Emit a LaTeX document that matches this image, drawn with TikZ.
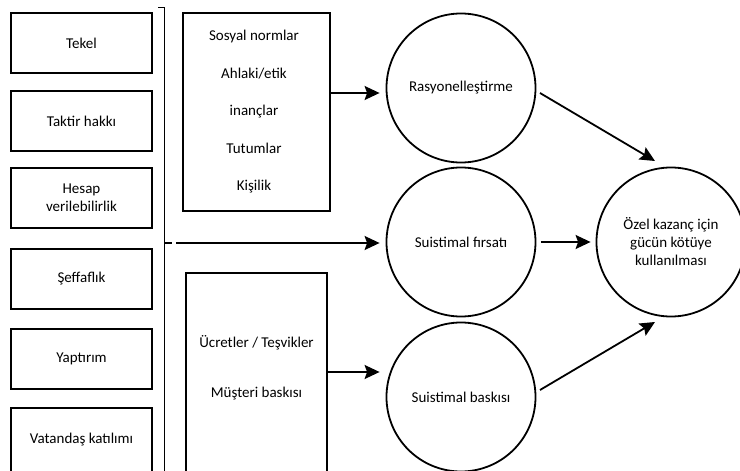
\documentclass[tikz,border=0pt]{standalone}
\usepackage{fontspec}
\setmainfont{Carlito}
\usetikzlibrary{arrows.meta,calc}
\begin{document}
\begin{tikzpicture}[x=1pt,y=-1pt,
  txt/.style={font=\fontsize{15}{18}\selectfont},
  box/.style={txt,draw,line width=1.8pt,minimum width=141pt,minimum height=60pt,inner sep=0pt,align=center},
  bigbox/.style={draw,line width=1.8pt,inner sep=0pt},
  circ/.style={txt,draw,circle,line width=1.8pt,minimum size=149pt,inner sep=0pt,align=center},
  arr/.style={line width=1.8pt,-{Stealth[length=15pt,width=14pt,inset=2.5pt]}},
  thin/.style={line width=1pt},
]
\useasboundingbox (0,0) rectangle (740,471);
\clip (0,0) rectangle (740,471);
% left boxes
\node[box] (tekel) at (81.5,43) {Tekel};
\node[box] (taktir) at (81.5,121) {Taktir hakkı};
\node[box] (hesap) at (81.5,198) {Hesap\\verilebilirlik};
\node[box] (seff) at (81.5,279) {Şeffaflık};
\node[box] (yapt) at (81.5,359) {Yaptırım};
\node[box,minimum height=64pt] (vat) at (81.5,440) {Vatandaş katılımı};
% bracket
\coordinate (bt) at (158,7);
\coordinate (bc) at (164,7);
\coordinate (bb) at (164,480);
\coordinate (bm) at (164,243);
\coordinate (bd) at (172,243);
\coordinate (as) at (176,243);
\draw[thin] (bt) -- (bc) -- (bb);
\draw[line width=1.8pt] (bm) -- (bd);
% middle boxes
\node[bigbox,minimum width=147pt,minimum height=198pt] (mt) at (256.5,112) {};
\node[txt,align=center,font=\fontsize{15}{37.5}\selectfont] (mtt) at (254,112) {Sosyal normlar\\Ahlaki/etik\\inançlar\\Tutumlar\\Kişilik};
\node[bigbox,minimum width=141pt,minimum height=210pt] (mb) at (256.5,378) {};
\node[txt,align=center,font=\fontsize{15}{50}\selectfont] (mbt) at (256.5,368) {Ücretler / Teşvikler\\Müşteri baskısı};
% circles
\node[circ] (c1) at (461,88) {Rasyonelleştirme};
\node[circ] (c2) at (461,242) {Suistimal fırsatı};
\node[circ] (c3) at (461,397) {Suistimal baskısı};
\node[circ] (c4) at (671,242) {Özel kazanç için\\gücün kötüye\\kullanılması};
% arrows
\draw[arr,shorten >=6pt] (mt.east |- 0,93) -- (c1.west |- 0,93);
\draw[arr,shorten >=6pt] (as) -- (c2.west |- as);
\draw[arr,shorten >=6pt] (mb.east |- 0,372) -- (c3.west |- 0,372);
\coordinate (p1) at (540,93);
\coordinate (q1) at (655,161);
\coordinate (p3) at (540,390);
\coordinate (q3) at (655,322);
\draw[arr] (p1) -- (q1);
\draw[arr,shorten <=4.5pt,shorten >=5pt] (c2.east) -- (c4.west);
\draw[arr] (p3) -- (q3);
\end{tikzpicture}
\end{document}
